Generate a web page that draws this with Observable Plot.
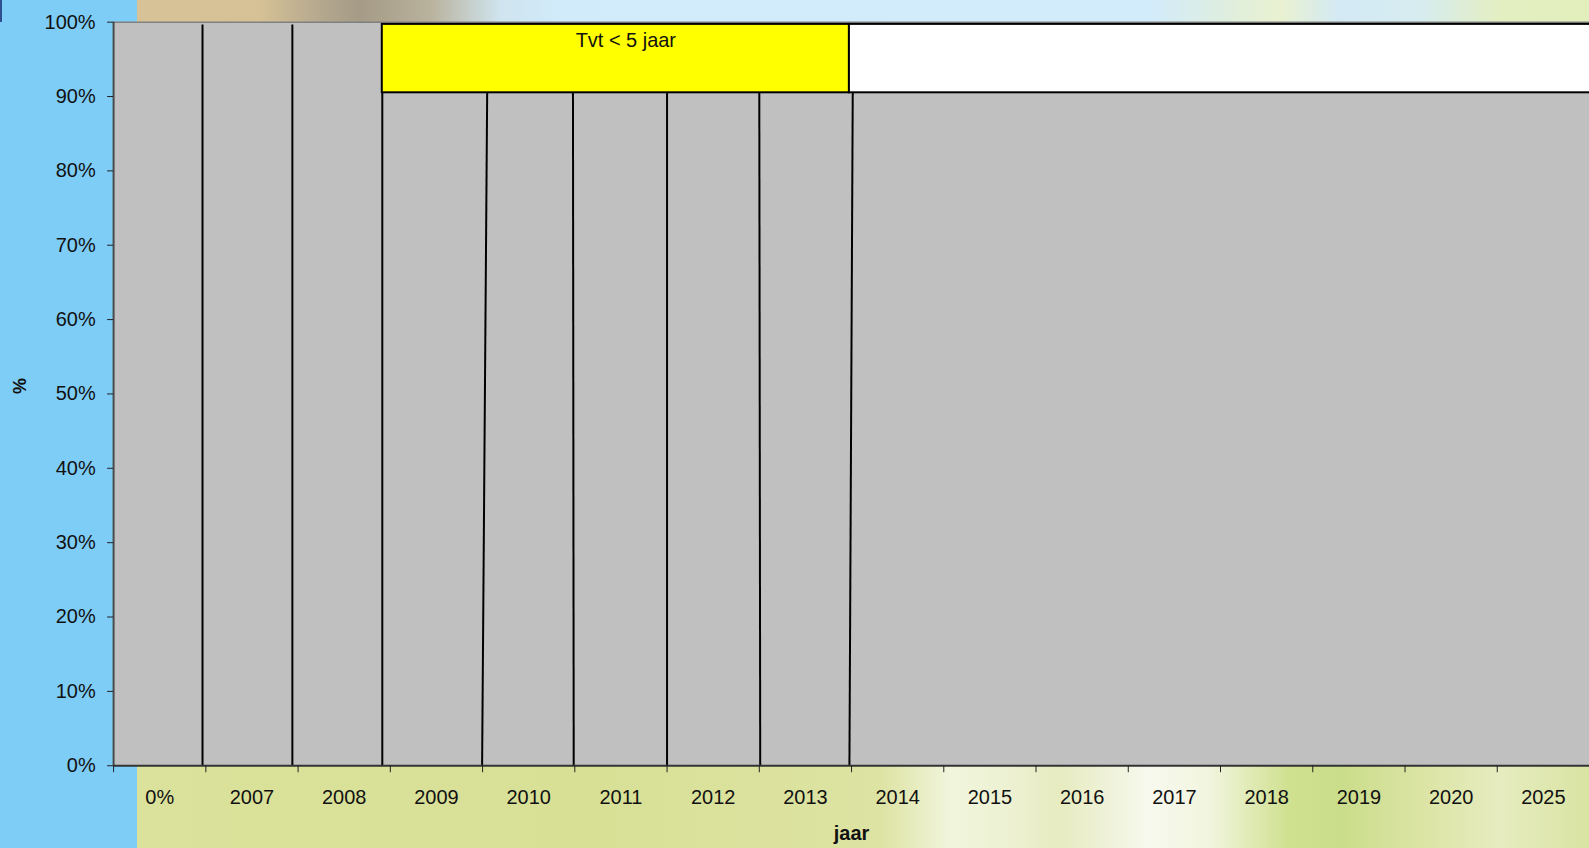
<!DOCTYPE html>
<html>
<head>
<meta charset="utf-8">
<script src="https://cdn.jsdelivr.net/npm/d3@7"></script>
<script src="https://cdn.jsdelivr.net/npm/@observablehq/plot@0.6"></script>
<style>
  html, body { margin: 0; padding: 0; width: 1589px; height: 848px; overflow: hidden; }
  #bg { position: absolute; left: 0; top: 0; width: 1589px; height: 848px; }
  #topband { position: absolute; left: 0; top: 0; width: 1589px; height: 40px;
    background: linear-gradient(to right, #d9c398 0px, #d6c196 260px, #b4a88e 320px, #a59b86 360px, #b9b29c 430px, #cfe4ee 500px, #d1ebfb 560px, #d3ecfb 1150px, #dfeedd 1230px, #e9f1d0 1280px, #d3eaf5 1340px, #d6ecf0 1420px, #e4efc2 1500px, #e2eebb 1589px); }
  #botband { position: absolute; left: 0; top: 740px; width: 1589px; height: 108px;
    background: linear-gradient(to right, #dbe29c 0px, #d8e096 600px, #dde3a2 880px, #f1f5dc 950px, #edf1d2 1010px, #e6ebc0 1060px, #f7f9ee 1150px, #f1f5de 1210px, #cfe08e 1290px, #cadd8a 1340px, #dbe4a4 1420px, #e6ecbf 1500px, #d9e3a2 1589px); }
  #leftband { position: absolute; left: 0; top: 0; width: 137px; height: 848px; background: #7ecdf7; }
  #corner { position: absolute; left: 0; top: 0; width: 2px; height: 22px; background: #2f4f8f; }
  #chart { position: absolute; left: 0; top: 0; }
</style>
</head>
<body>
<div id="bg"><div id="topband"></div><div id="botband"></div><div id="leftband"></div><div id="corner"></div></div>
<div id="chart"></div>
<script>
// Categories along the x axis (one band per label)
const categories = ["0%", "2007", "2008", "2009", "2010", "2011", "2012", "2013",
                    "2014", "2015", "2016", "2017", "2018", "2019", "2020", "2025"];
const yTicks = [0, 10, 20, 30, 40, 50, 60, 70, 80, 90, 100];
const xTitle = "jaar";
const yTitle = "%";

// Upper blocks (in category units / percent)
const boxSeries = ["Tvt < 5 jaar", "overig"];
const boxStart = [2.913, 7.977];
const boxEnd = [7.977, 16.3];
const boxLow = [90.5, 90.5];
const boxHigh = [99.7, 99.7];

// Dividing lines inside the grey area: top x, bottom x, top value
const dividerTopX = [0.964, 1.938, 2.913, 4.05, 4.98, 6.0, 7.0, 8.013];
const dividerBottomX = [0.964, 1.938, 2.913, 3.995, 4.988, 6.0, 7.01, 7.977];
const dividerTopY = [99.7, 99.7, 90.5, 90.5, 90.5, 90.5, 90.5, 90.5];

const boxes = boxSeries.map((s, i) => ({series: s, x1: boxStart[i], x2: boxEnd[i], y1: boxLow[i], y2: boxHigh[i]}));
const dividers = dividerTopX.map((x, i) => ({xt: x, xb: dividerBottomX[i], yt: dividerTopY[i], yb: 0}));
const labelBox = boxes[0];

const chart = Plot.plot({
  width: 1592,
  height: 848,
  marginLeft: 113.3,
  marginRight: 0,
  marginTop: 21.7,
  marginBottom: 81.3,
  x: {domain: [0, categories.length], axis: null},
  y: {domain: [0, 100], axis: null},
  color: {domain: boxSeries, range: ["#ffff00", "#ffffff"]},
  style: {background: "transparent", fontFamily: "'Liberation Sans', Arial, sans-serif", fontSize: "20px", color: "#111", overflow: "visible"},
  marks: [
    Plot.frame({fill: "#c0c0c0", stroke: null}),
    Plot.ruleY([100], {stroke: "#808080", strokeWidth: 1.5}),
    Plot.rect(boxes, {x1: "x1", x2: "x2", y1: "y1", y2: "y2", fill: "series", stroke: "#000", strokeWidth: 2}),
    Plot.link(dividers, {x1: "xt", y1: "yt", x2: "xb", y2: "yb", stroke: "#000", strokeWidth: 2}),
    Plot.text([labelBox], {x: d => (d.x1 + d.x2) / 2, y: "y2", text: "series", dx: 10, dy: 16, lineAnchor: "middle", fontSize: 20, fill: "#111"}),
    Plot.ruleX([0], {stroke: "#4a4a4a", strokeWidth: 2}),
    Plot.ruleY([0], {stroke: "#333", strokeWidth: 2}),
    Plot.axisY({ticks: yTicks, tickFormat: d => `${d}%`, tickSize: 6, tickPadding: 12, label: null, stroke: "#222", fill: "#111", fontSize: 20}),
    Plot.axisX({ticks: d3.range(categories.length + 1), tickFormat: () => "", tickSize: 7, label: null, stroke: "#222"}),
    Plot.axisX({ticks: categories.map((_, i) => i + 0.5), tickFormat: d => categories[Math.floor(d)], tickSize: 0, tickPadding: 24, label: null, fill: "#111", fontSize: 20}),
    Plot.text([xTitle], {frameAnchor: "bottom", dy: 68, lineAnchor: "middle", fontWeight: "bold", fontSize: 20, fill: "#111"}),
    Plot.text([yTitle], {frameAnchor: "left", dx: -94, rotate: -90, lineAnchor: "middle", fontWeight: "bold", fontSize: 18, fill: "#111"})
  ]
});
document.getElementById("chart").appendChild(chart);
</script>
</body>
</html>
